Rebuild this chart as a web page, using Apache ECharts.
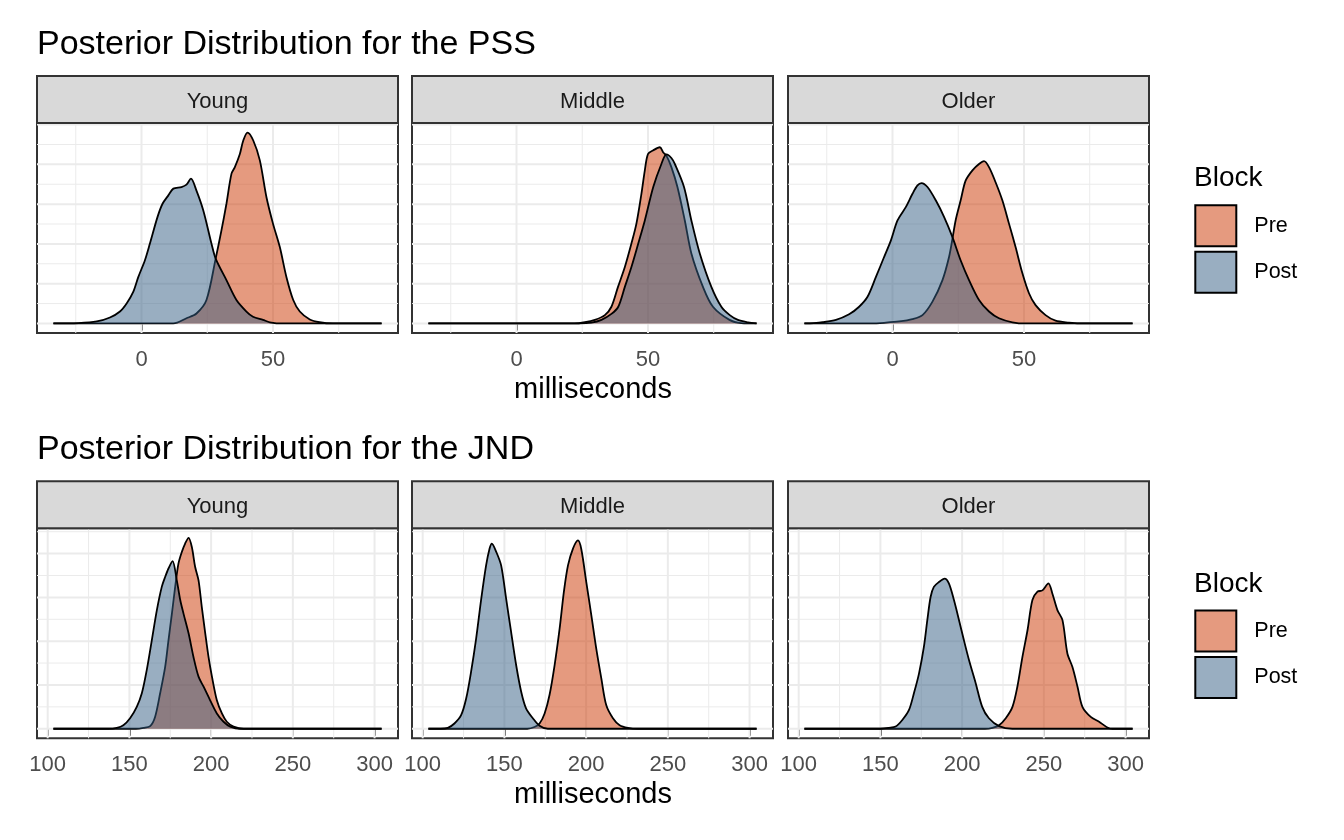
<!DOCTYPE html>
<html>
<head>
<meta charset="utf-8">
<script src="https://cdn.jsdelivr.net/npm/echarts@6/dist/echarts.min.js"></script>
<style>
html,body{margin:0;padding:0;background:#ffffff;}
#chart{width:1344px;height:840px;}
</style>
</head>
<body>
<div id="chart"></div>
<script>
// ---------------- DATA ----------------
const groups = ['Young', 'Middle', 'Older'];
const blocks = ['Pre', 'Post'];
const rowTitles = ['Posterior Distribution for the PSS', 'Posterior Distribution for the JND'];
const xAxisTitle = 'milliseconds';
const legendTitle = 'Block';

// data range of each row (density evaluated over the whole x scale)
const pssRange = [-33.5, 91.3];
const jndRange = [103.5, 304.3];

// tick labels / grid breaks
const pssTicks = [0, 50];
const pssMinor = [-25, 25, 75];
const jndTicks = [100, 150, 200, 250, 300];
const jndMinor = [125, 175, 225, 275];
const densMajor = [0, 0.01, 0.02, 0.03, 0.04, 0.05];
const densMinor = [0.005, 0.015, 0.025, 0.035, 0.045];

// density curves [milliseconds, density]
const pssYoungPre = [[-33.5,0],[12.1,0],[17.1,0.0013],[20.9,0.0025],[24.7,0.0059],[28.2,0.0163],[30.4,0.0234],[32.3,0.0301],[34.2,0.0376],[35.5,0.0393],[37.4,0.0426],[38.7,0.046],[40.3,0.048],[42.5,0.046],[45,0.041],[47.5,0.0318],[50,0.0251],[52.6,0.0192],[55.1,0.0117],[57.7,0.0059],[60.2,0.003],[64,0.001],[67.7,0.0003],[72.8,0],[91.3,0]];
const pssYoungPost = [[-33.5,0],[-24,0.0001],[-17,0.0005],[-12,0.0015],[-8.2,0.003],[-5.6,0.0051],[-3.1,0.008],[-1.2,0.0117],[1.3,0.0159],[3.2,0.0201],[6.1,0.0268],[8,0.0301],[10.2,0.0322],[12.1,0.0339],[15.2,0.0343],[17.1,0.0349],[18.8,0.0364],[20.9,0.0334],[23.5,0.0284],[26.6,0.0201],[28.2,0.0163],[32.3,0.0109],[36.1,0.0059],[39.9,0.003],[42.4,0.0017],[46.2,0.0009],[48.8,0.0003],[53.8,0],[91.3,0]];
const pssMiddlePre = [[-33.5,0],[22,0],[26,0.0003],[29.8,0.0009],[33.6,0.0021],[36.1,0.0042],[38.6,0.0092],[41.2,0.0142],[43.7,0.0201],[45.6,0.0251],[47.5,0.0326],[48.8,0.0385],[50,0.0426],[51.9,0.0435],[54.5,0.0443],[55.8,0.043],[57,0.0422],[58.9,0.0393],[61.2,0.0343],[64,0.0259],[66.5,0.0176],[70.9,0.0092],[74.7,0.0042],[81,0.0009],[85.5,0.0001],[91.3,0]];
const pssMiddlePost = [[-33.5,0],[24,0],[28.5,0.0002],[32.3,0.0009],[36.1,0.0024],[38.7,0.0042],[41.2,0.0092],[43.7,0.0142],[46.3,0.0201],[48.8,0.0259],[52,0.0343],[55.1,0.0401],[57,0.0425],[58.9,0.0416],[60.2,0.0401],[63.7,0.0343],[66.5,0.0259],[69.7,0.0176],[74.1,0.0092],[77.9,0.0042],[81.1,0.0021],[84.2,0.0009],[88,0.0003],[91.3,0]];
const pssOlderPre = [[-33.5,0],[-8,0],[-2.5,0.0002],[2.5,0.0005],[7.6,0.0011],[11.4,0.0021],[15.2,0.0055],[19,0.0109],[21.5,0.0167],[22.8,0.0213],[24,0.0259],[25.9,0.0309],[27.8,0.0359],[30.4,0.0385],[32.9,0.0401],[34.8,0.0408],[36.7,0.0393],[39.2,0.0355],[41.8,0.0309],[44.3,0.0251],[46.8,0.0192],[49.4,0.0126],[51.9,0.0076],[54.4,0.0046],[58.2,0.0021],[62,0.0007],[67.1,0.0002],[70.9,0],[91.3,0]];
const pssOlderPost = [[-33.5,0],[-30,0.0001],[-26.6,0.0003],[-21.5,0.0009],[-16.5,0.0023],[-12.7,0.0042],[-9.5,0.0067],[-6.3,0.0117],[-3.2,0.0167],[-0.6,0.0209],[1.9,0.0259],[5.1,0.0293],[7.6,0.0326],[9.5,0.0347],[11,0.0353],[13.3,0.0343],[16.5,0.0309],[19.6,0.0268],[22.8,0.0217],[25.9,0.0159],[29.1,0.0109],[32.9,0.0059],[36.7,0.003],[40.5,0.0013],[45.6,0.0003],[50.6,0],[91.3,0]];

const jndYoungPre = [[103.5,0],[154,0],[158.6,0.0002],[162.7,0.0006],[165.7,0.0027],[168.8,0.0081],[171.9,0.0142],[173.9,0.0202],[176,0.0263],[178,0.0324],[180,0.0377],[182.1,0.0404],[184.1,0.0423],[186.2,0.0436],[188.2,0.0415],[190.2,0.037],[192.3,0.0339],[194.3,0.0278],[196.4,0.0218],[198.4,0.0164],[200.5,0.0119],[203.5,0.0065],[206.6,0.0035],[209.6,0.0016],[213.7,0.0005],[219.9,0],[304.3,0]];
const jndYoungPost = [[103.5,0],[137,0],[142.3,0.0002],[146.3,0.0008],[150.4,0.0024],[154.5,0.005],[157.6,0.0081],[160.6,0.0134],[163.7,0.0202],[166.8,0.0271],[169.8,0.0324],[171.9,0.0347],[173.9,0.0366],[176.4,0.0383],[179,0.0339],[181.1,0.0294],[183.1,0.0263],[186.2,0.0218],[189.2,0.0164],[192.3,0.0119],[195.4,0.0096],[199.4,0.0065],[203.5,0.0035],[207.6,0.0016],[211.7,0.0005],[217.8,0],[304.3,0]];
const jndMiddlePre = [[103.5,0],[164,0],[168.4,0.0004],[171.5,0.0012],[174.6,0.0035],[177.6,0.0077],[180.7,0.0145],[183.8,0.0229],[186.4,0.0313],[188.9,0.0373],[191.9,0.0411],[195,0.043],[197,0.0411],[200.1,0.0335],[203.2,0.0259],[206.2,0.0183],[209.3,0.0115],[212.3,0.0054],[216.4,0.0024],[220.5,0.0008],[225.6,0.0002],[231.7,0],[304.3,0]];
const jndMiddlePost = [[103.5,0],[111,0],[115.4,0.0002],[119.4,0.0012],[123.5,0.0031],[126.6,0.0069],[129.6,0.013],[132.7,0.0206],[135.8,0.0296],[138.8,0.0373],[140.9,0.0411],[142.3,0.0423],[145,0.0404],[148,0.0373],[151.1,0.0296],[154.1,0.0221],[157.2,0.0145],[160.3,0.0084],[163.3,0.0046],[167.4,0.0024],[171.5,0.0007],[176.6,0],[304.3,0]];
const jndOlderPre = [[103.5,0],[214,0],[218.5,0.0002],[222.6,0.0008],[226.7,0.0024],[230.8,0.005],[233.8,0.0096],[236.9,0.0164],[240,0.0225],[243,0.0294],[246.1,0.0313],[249.1,0.0316],[252.8,0.0332],[255.2,0.0309],[258.3,0.0271],[261.4,0.0248],[264.4,0.0172],[267.5,0.0141],[270.6,0.0096],[273.6,0.005],[278.7,0.0027],[283.8,0.0016],[288.9,0.0003],[292,0],[304.3,0]];
const jndOlderPost = [[103.5,0],[150,0],[155.2,0.0002],[159.3,0.0005],[163.4,0.002],[167.5,0.0043],[170.5,0.0081],[173.6,0.0126],[176.6,0.0187],[178.7,0.0248],[180.7,0.0301],[182.7,0.0324],[185.8,0.0335],[189.3,0.0343],[191.9,0.0332],[195,0.0294],[198.1,0.0248],[201.1,0.0202],[204.2,0.0157],[208.3,0.0104],[212.3,0.005],[216.4,0.0024],[222.6,0.0006],[230.7,0],[304.3,0]];

// ---------------- STYLE / LAYOUT ----------------
const FONT = "'Liberation Sans', Arial, Helvetica, sans-serif";
const fillColors = { Pre: 'rgba(203,53,0,0.5)', Post: 'rgba(51,93,131,0.5)' };
const panelLefts = [37, 412, 788];
const panelWidth = 361;
const rowOffset = 405.3;
const panelTop = 123, panelHeight = 210;
const stripTop = 76, stripHeight = 47;

const rows = [
  { range: pssRange, ticks: pssTicks, minor: pssMinor,
    curves: [[pssYoungPre, pssYoungPost], [pssMiddlePre, pssMiddlePost], [pssOlderPre, pssOlderPost]] },
  { range: jndRange, ticks: jndTicks, minor: jndMinor,
    curves: [[jndYoungPre, jndYoungPost], [jndMiddlePre, jndMiddlePost], [jndOlderPre, jndOlderPost]] }
];

const grid = [], xAxis = [], yAxis = [], series = [], graphic = [], legend = [];
let gi = 0;

rows.forEach((row, r) => {
  const off = r * rowOffset;
  const span = row.range[1] - row.range[0];
  const xMin = row.range[0] - 0.05 * span, xMax = row.range[1] + 0.05 * span;
  let dMax = 0;
  row.curves.forEach(pair => pair.forEach(c => c.forEach(p => { if (p[1] > dMax) dMax = p[1]; })));
  const yMin = -0.05 * dMax, yMax = 1.05 * dMax;

  groups.forEach((g, c) => {
    const left = panelLefts[c];
    grid.push({ left: left, top: panelTop + off, width: panelWidth, height: panelHeight,
      show: true, borderColor: '#333333', borderWidth: 2, backgroundColor: '#ffffff',
      containLabel: false, outerBoundsMode: 'none' });
    xAxis.push({ type: 'value', gridIndex: gi, min: xMin, max: xMax,
      axisLine: { show: false },
      axisTick: { show: true, length: 7, customValues: row.ticks, lineStyle: { color: '#333333', width: 2 } },
      axisLabel: { show: true, customValues: row.ticks, margin: 15.5, color: '#4D4D4D', fontSize: 22, fontFamily: FONT },
      splitLine: { show: false }, minorSplitLine: { show: false } });
    yAxis.push({ type: 'value', gridIndex: gi, min: yMin, max: yMax,
      axisLine: { show: false }, axisTick: { show: false }, axisLabel: { show: false },
      splitLine: { show: false } });

    // panel grid lines (drawn through the axis scales)
    const gl = [];
    row.ticks.forEach(v => gl.push([v, 0, 1]));
    row.minor.forEach(v => gl.push([v, 0, 0]));
    densMajor.forEach(v => { if (v < yMax) gl.push([v, 1, 1]); });
    densMinor.forEach(v => { if (v < yMax) gl.push([v, 1, 0]); });
    series.push({
      type: 'custom', xAxisIndex: gi, yAxisIndex: gi, z: 1, silent: true, animation: false,
      data: gl,
      encode: { x: -1, y: -1 },
      renderItem: (function (xm) {
        return function (params, api) {
          const v = api.value(0), horiz = api.value(1), major = api.value(2);
          const cs = params.coordSys;
          const st = { stroke: '#EBEBEB', lineWidth: major ? 2 : 1 };
          if (horiz) {
            const y = api.coord([xm, v])[1];
            return { type: 'line', shape: { x1: cs.x, y1: y, x2: cs.x + cs.width, y2: y }, style: st };
          }
          const x = api.coord([v, 0])[0];
          return { type: 'line', shape: { x1: x, y1: cs.y, x2: x, y2: cs.y + cs.height }, style: st };
        };
      })(xMin)
    });

    blocks.forEach((b, k) => {
      series.push({
        name: b, type: 'line', xAxisIndex: gi, yAxisIndex: gi,
        data: row.curves[c][k], showSymbol: false, symbol: 'none',
        smooth: 0.3, z: 2 + k, animation: false, silent: true,
        color: fillColors[b],
        lineStyle: { color: '#000000', width: 1.8 },
        areaStyle: { color: fillColors[b], opacity: 1 },
        itemStyle: { color: fillColors[b] }
      });
    });

    // facet strip
    graphic.push({ type: 'rect', z: 10,
      shape: { x: left, y: stripTop + off, width: panelWidth, height: stripHeight },
      style: { fill: '#D9D9D9', stroke: '#333333', lineWidth: 2 } });
    graphic.push({ type: 'text', z: 11,
      style: { x: left + panelWidth / 2, y: stripTop + off + 26, text: g, align: 'center', verticalAlign: 'middle',
        fill: '#1A1A1A', font: '22px ' + FONT } });
    gi++;
  });

  // row title
  graphic.push({ type: 'text', z: 11,
    style: { x: 37, y: 44.5 + off, text: rowTitles[r], align: 'left', verticalAlign: 'middle',
      fill: '#000000', font: '34px ' + FONT } });
  // x axis title
  graphic.push({ type: 'text', z: 11,
    style: { x: (panelLefts[0] + panelLefts[2] + panelWidth) / 2, y: 389.5 + off, text: xAxisTitle,
      align: 'center', verticalAlign: 'middle', fill: '#000000', font: '29px ' + FONT } });
  // legend title
  graphic.push({ type: 'text', z: 11,
    style: { x: 1194, y: 178.5 + off, text: legendTitle, align: 'left', verticalAlign: 'middle',
      fill: '#000000', font: '28px ' + FONT } });

  legend.push({
    orient: 'vertical', left: 1194.3, top: 204.3 + off, padding: 0,
    itemWidth: 41, itemHeight: 41, itemGap: 3.4, selectedMode: false,
    textStyle: { fontSize: 21.5, color: '#000000', fontFamily: FONT, padding: [9, 0, 0, 13] },
    data: blocks.map(b => ({ name: b, icon: 'rect',
      itemStyle: { color: fillColors[b], borderColor: '#000000', borderWidth: 2, opacity: 1 } }))
  });
});

const chart = echarts.init(document.getElementById('chart'), null, { renderer: 'canvas' });
chart.setOption({
  backgroundColor: '#ffffff',
  animation: false,
  textStyle: { fontFamily: FONT },
  grid: grid, xAxis: xAxis, yAxis: yAxis, series: series, legend: legend, graphic: graphic
});
</script>
</body>
</html>
